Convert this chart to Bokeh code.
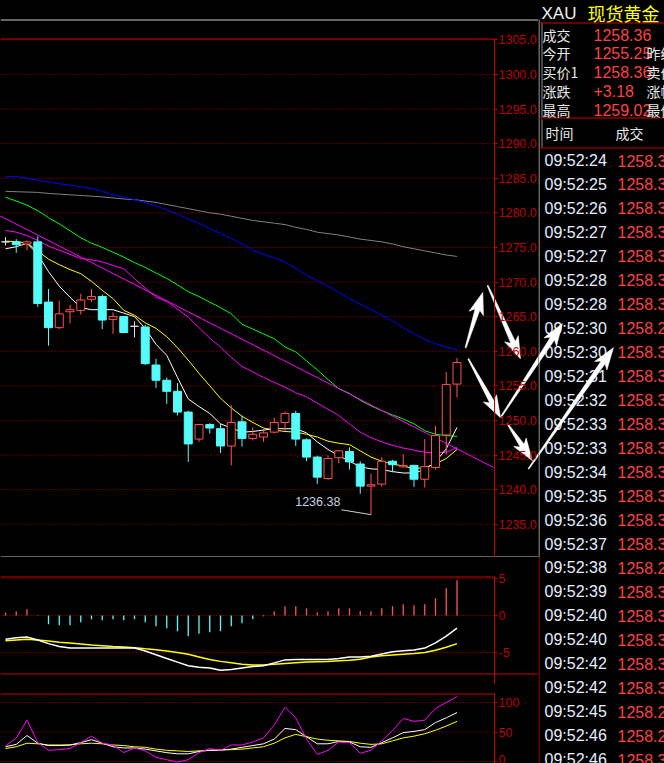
import math
from bokeh.plotting import figure
from bokeh.layouts import row, column
from bokeh.models import Range1d, LinearAxis, FixedTicker, NumeralTickFormatter
from bokeh.core.properties import value
from bokeh.embed import file_html
from bokeh.resources import INLINE

# ---------------- data ----------------
candle_idx = list(range(43))
opens = [1275.8, 1275.8, 1275.5, 1275.8, 1267.1, 1263.4, 1265.7, 1265.9, 1267.5, 1267.9, 1264.6, 1265.0, 1263.6,
         1263.5, 1258.0, 1255.8, 1254.2, 1251.2, 1247.3, 1249.4, 1248.8, 1246.3, 1249.8, 1247.4, 1247.6, 1248.3,
         1249.7, 1251.0, 1247.2, 1244.7, 1241.6, 1244.6, 1245.5, 1243.7, 1240.5, 1240.8, 1244.1, 1243.3, 1243.5,
         1241.5, 1243.2, 1247.9, 1255.25]
highs = [1276.5, 1276.2, 1276.0, 1276.6, 1269.0, 1267.3, 1266.7, 1268.3, 1269.0, 1268.2, 1265.6, 1265.1, 1264.3,
         1263.8, 1258.9, 1256.2, 1255.4, 1251.4, 1249.5, 1249.6, 1249.5, 1252.2, 1250.7, 1249.0, 1248.8, 1250.4,
         1251.3, 1251.4, 1247.4, 1244.9, 1244.9, 1245.7, 1246.1, 1244.1, 1242.3, 1244.7, 1244.3, 1245.1, 1243.6,
         1247.3, 1249.2, 1257.0, 1259.02]
lows = [1275.3, 1274.2, 1274.6, 1266.4, 1260.8, 1263.2, 1264.0, 1265.3, 1267.1, 1263.2, 1262.5, 1262.6, 1262.0,
        1258.0, 1254.7, 1252.4, 1250.7, 1244.0, 1246.9, 1248.1, 1245.3, 1243.5, 1246.2, 1247.1, 1246.9, 1248.1,
        1248.5, 1246.3, 1244.1, 1240.8, 1241.4, 1243.8, 1242.9, 1239.4, 1236.38, 1240.4, 1242.5, 1243.2, 1240.4,
        1240.3, 1242.9, 1245.1, 1253.3]
closes = [1275.8, 1275.4, 1275.8, 1266.9, 1263.4, 1265.4, 1266.0, 1267.4, 1267.9, 1264.5, 1265.0, 1262.7, 1263.6,
          1258.2, 1255.8, 1254.2, 1251.2, 1246.6, 1249.4, 1248.9, 1246.3, 1249.7, 1247.4, 1248.0, 1248.2, 1249.7,
          1251.0, 1247.3, 1244.7, 1241.8, 1244.5, 1245.6, 1244.0, 1240.5, 1240.7, 1244.1, 1243.6, 1243.5, 1241.5,
          1243.3, 1247.8, 1255.2, 1258.36]

ma5 = [1274.8, 1275.1, 1275.6, 1274.0, 1271.5, 1269.4, 1267.8, 1266.3, 1266.0, 1266.0, 1266.0, 1265.5, 1265.0,
       1263.3, 1261.0, 1259.4, 1256.2, 1253.1, 1252.0, 1251.0, 1249.5, 1248.9, 1248.3, 1248.4, 1248.6, 1248.8,
       1248.8, 1248.8, 1248.2, 1246.9, 1245.8, 1244.9, 1244.1, 1243.3, 1243.0, 1242.9, 1242.6, 1242.4, 1242.4,
       1242.9, 1244.0, 1245.9, 1249.0]
ma10 = [1275.9, 1275.85, 1275.6, 1274.5, 1273.3, 1272.5, 1271.8, 1271.2, 1270.1, 1268.8, 1267.6, 1265.9, 1265.2,
        1264.1, 1263.3, 1262.1, 1260.5, 1258.7, 1256.8, 1255.0, 1253.2, 1251.8, 1250.6, 1249.7, 1248.9, 1248.6,
        1248.4, 1248.3, 1248.0, 1247.6, 1247.0, 1246.7, 1246.5, 1245.6, 1244.7, 1244.1, 1243.7, 1243.4, 1243.0,
        1243.2, 1243.7, 1244.5, 1245.8]
ma20 = [1277.45, 1277.2, 1276.7, 1276.0, 1275.2, 1274.6, 1274.0, 1273.4, 1273.2, 1272.9, 1272.4, 1271.9, 1270.5,
        1269.1, 1267.8, 1267.2, 1266.1, 1264.9, 1263.4, 1261.9, 1260.6, 1259.1, 1257.8, 1257.0, 1256.2, 1255.5,
        1254.8, 1254.0, 1253.4, 1252.5, 1251.6, 1250.7, 1249.5, 1248.3, 1247.5, 1246.9, 1246.4, 1246.0, 1245.7,
        1245.4, 1245.3, 1245.4, 1246.1]
ma30 = [1282.25, 1281.7, 1281.1, 1280.3, 1279.3, 1278.4, 1277.4, 1276.4, 1275.6, 1275.0, 1274.3, 1273.6, 1272.8,
        1272.1, 1271.3, 1270.5, 1269.6, 1268.6, 1267.9, 1267.1, 1266.3, 1265.4, 1263.9, 1263.2, 1262.5, 1261.8,
        1260.6, 1259.9, 1258.6, 1257.3, 1255.9, 1254.6, 1253.9, 1252.9, 1252.1, 1251.4, 1250.8, 1250.2, 1249.5,
        1248.5, 1248.0, 1247.8, 1247.7]
ma60 = [1285.25, 1285.25, 1285.0, 1284.7, 1284.45, 1284.2, 1284.0, 1283.75, 1283.5, 1283.1, 1282.6, 1282.25,
        1281.9, 1281.45, 1281.0, 1280.4, 1279.8, 1279.1, 1278.5, 1277.7, 1277.0, 1276.3, 1275.5, 1274.6, 1274.0,
        1273.5, 1272.9, 1272.0, 1271.0, 1270.2, 1269.4, 1268.5, 1267.6, 1266.8, 1266.0, 1265.2, 1264.4, 1263.4,
        1262.5, 1261.7, 1261.1, 1260.6, 1260.2]
ma120 = [1283.1, 1283.05, 1283.0, 1282.95, 1282.8, 1282.7, 1282.6, 1282.5, 1282.4, 1282.3, 1282.15, 1282.0,
         1281.9, 1281.7, 1281.5, 1281.2, 1280.9, 1280.6, 1280.3, 1280.0, 1279.8, 1279.5, 1279.2, 1278.9, 1278.7,
         1278.5, 1278.3, 1277.9, 1277.6, 1277.2, 1277.0, 1276.8, 1276.5, 1276.2, 1276.0, 1275.8, 1275.5, 1275.1,
         1274.8, 1274.5, 1274.2, 1273.9, 1273.7]
trend_x = [-0.5, 45.4]
trend_y = [1279.55, 1243.2]
low_label = "1236.38"

macd_hist = [0.41, 0.59, 0.86, -0.05, -1.17, -1.31, -1.31, -0.9, -0.5, -0.63, -0.5, -0.63, -0.5, -0.9, -1.44,
             -1.71, -2.12, -2.79, -2.48, -2.25, -2.12, -1.44, -1.04, -0.5, -0.09, 0.59, 1.26, 1.26, 0.99, 0.45,
             0.59, 0.99, 0.99, 0.59, 0.59, 0.99, 1.26, 1.53, 1.40, 1.53, 2.34, 3.69, 4.77]
macd_dif = [-3.2, -3.0, -2.9, -3.3, -3.8, -4.2, -4.4, -4.4, -4.4, -4.4, -4.4, -4.4, -4.4, -4.8, -5.3, -5.8, -6.3,
            -6.8, -7.0, -7.1, -7.4, -7.3, -7.1, -6.9, -6.8, -6.4, -6.0, -5.95, -5.95, -5.95, -5.95, -5.8, -5.6,
            -5.6, -5.5, -5.2, -4.9, -4.75, -4.65, -4.4, -3.7, -2.8, -1.7]
macd_dea = [-3.4, -3.3, -3.2, -3.3, -3.45, -3.6, -3.7, -3.85, -4.0, -4.1, -4.2, -4.25, -4.35, -4.5, -4.64, -4.8,
            -5.0, -5.25, -5.6, -5.95, -6.2, -6.4, -6.6, -6.7, -6.7, -6.6, -6.5, -6.4, -6.3, -6.25, -6.2, -6.1,
            -6.05, -5.9, -5.6, -5.45, -5.35, -5.25, -5.15, -5.0, -4.7, -4.3, -3.8]
kdj_k = [25, 29, 44, 31, 27, 27, 28, 32, 37, 31, 25, 23, 23, 21, 18, 15, 13, 13, 17, 19, 19, 21, 24, 27, 30, 38,
         56, 54, 42, 30, 30, 34, 33, 25, 24, 32, 40, 49, 51, 54, 66, 74, 83]
kdj_d = [22, 25, 31, 30, 28, 28, 28, 30, 31, 30, 28, 27, 25, 24, 21, 19, 18, 17, 18, 19, 20, 20, 21, 23, 25, 31,
         40, 46, 42, 38, 36, 35, 34, 31, 29, 30, 35, 40, 43, 47, 53, 60, 68]
kdj_j = [26, 40, 70, 32, 19, 20, 22, 32, 43, 31, 28, 15, 23, 18, 7, 3, -1, 3, 15, 22, 19, 28, 28, 33, 40, 62, 92,
         74, 38, 12, 19, 33, 32, 14, 19, 35, 52, 73, 68, 70, 90, 100, 110]

price_ticks = [1235, 1240, 1245, 1250, 1255, 1260, 1265, 1270, 1275, 1280, 1285, 1290, 1295, 1300, 1305]
macd_ticks = [-5, 0, 5]
kdj_ticks = [0, 50, 100]

# hand-drawn arrows, in chart units (candle index, price)
arrows = [((42.8, 1260.5), (44.4, 1268.5)),
          ((44.85, 1269.5), (47.9, 1258.9)),
          ((43.05, 1258.9), (46.05, 1250.4)),
          ((46.05, 1250.4), (51.8, 1264.0)),
          ((46.7, 1249.5), (49.0, 1244.2)),
          ((48.65, 1243.0), (56.55, 1260.5))]

# quote panel texts
q_code = "XAU"
q_name = "现货黄金"
q_labels = ["成交", "今开", "买价1", "涨跌", "最高"]
q_values = ["1258.36", "1255.25", "1258.36", "+3.18", "1259.02"]
q_labels2 = ["", "昨结", "卖价1", "涨幅", "最低"]
q_head = ["时间", "成交"]
tick_times = ["09:52:24", "09:52:25", "09:52:26", "09:52:27", "09:52:27", "09:52:28", "09:52:28", "09:52:30",
              "09:52:30", "09:52:31", "09:52:32", "09:52:33", "09:52:33", "09:52:34", "09:52:35", "09:52:36",
              "09:52:37", "09:52:38", "09:52:39", "09:52:40", "09:52:40", "09:52:42", "09:52:42", "09:52:45",
              "09:52:46", "09:52:46"]
tick_prices = ["1258.36", "1258.36", "1258.36", "1258.36", "1258.34", "1258.36", "1258.34", "1258.29",
               "1258.36", "1258.36", "1258.34", "1258.36", "1258.36", "1258.36", "1258.36", "1258.36",
               "1258.36", "1258.29", "1258.34", "1258.36", "1258.36", "1258.36", "1258.36", "1258.28",
               "1258.29", "1258.36"]

# ---------------- styling / geometry ----------------
BG = "#000000"
RED_AX = "#c80000"
RED_LBL = "#bc0000"
GRID = "#b40000"
UP = "#ff5454"
DOWN = "#54fcfc"
LEFT_W = 538          # width of the chart column (px)
AXIS_PX = 494         # x position of the price axis (px)
SX = 10.75            # px per candle
X0 = -5 / SX          # candle index at the left edge
X1 = X0 + LEFT_W / SX
XA = X0 + AXIS_PX / SX


class Panel:
    def __init__(self, height, hi, px_per_unit):
        self.h = height
        self.hi = hi
        self.k = px_per_unit
        self.lo = hi - height / px_per_unit

    def v(self, py):          # value at local pixel row py
        return self.hi - py / self.k

    def py(self, v):
        return (self.hi - v) * self.k


MAIN = Panel(557, 1305 + 39.3 / 6.92, 6.92)
MACD = Panel(127, 58 / 7.4, 7.4)
KDJ = Panel(79, 77 / 0.59, 0.59)


def bare_figure(width, height, xr, yr):
    f = figure(width=width, height=height, x_range=xr, y_range=yr,
               output_backend="svg", toolbar_location=None, x_axis_location=None, y_axis_location=None,
               min_border=0, background_fill_color=BG, border_fill_color=BG, outline_line_color=None)
    f.xgrid.visible = False
    f.ygrid.visible = False
    return f


def make_panel(P, frame_top_px, ticks, fmt, bottom_px=None, bottom_color=None, bottom_to=X1):
    p = bare_figure(LEFT_W, P.h, Range1d(X0, X1), Range1d(P.lo, P.hi))
    ax = LinearAxis(fixed_location=XA, bounds=(P.lo, P.v(frame_top_px)), ticker=FixedTicker(ticks=ticks),
                    formatter=fmt)
    ax.axis_line_color = RED_AX
    ax.major_tick_line_color = RED_AX
    ax.major_tick_out = 3
    ax.major_tick_in = 0
    ax.minor_tick_line_color = None
    ax.major_label_text_color = RED_LBL
    ax.major_label_text_font = "Liberation Sans"
    ax.major_label_text_font_size = "12.5px"
    ax.major_label_standoff = 1
    p.add_layout(ax, "right")
    # dotted grid lines, ending at the axis
    p.segment(x0=[X0] * len(ticks), y0=ticks, x1=[XA] * len(ticks), y1=ticks, line_color=GRID,
              line_dash="1 2", line_width=1)
    # red top border of the panel
    yt = P.v(frame_top_px + 0.5)
    p.segment(x0=[X0], y0=[yt], x1=[XA], y1=[yt], line_color=RED_AX, line_width=1)
    if bottom_px is not None:
        yb = P.v(bottom_px)
        p.segment(x0=[X0], y0=[yb], x1=[bottom_to], y1=[yb], line_color=bottom_color, line_width=1)
    return p


def to_px(i, v):
    return ((i - X0) * SX, MAIN.py(v))


def to_data(px, py):
    return (X0 + px / SX, MAIN.v(py))


def arrow_poly(p0, p1, head_len=18.0, head_w=7.5, shaft_w=2.4, barb=4.0):
    (x0, y0), (x1, y1) = p0, p1
    dx, dy = x1 - x0, y1 - y0
    L = math.hypot(dx, dy)
    ux, uy = dx / L, dy / L
    nx, ny = -uy, ux
    bx, by = x1 - ux * head_len, y1 - uy * head_len
    ox, oy = x1 - ux * (head_len + barb), y1 - uy * (head_len + barb)
    return [(x0 + nx * 0.5, y0 + ny * 0.5), (bx + nx * shaft_w, by + ny * shaft_w),
            (ox + nx * head_w, oy + ny * head_w), (x1, y1),
            (ox - nx * head_w, oy - ny * head_w), (bx - nx * shaft_w, by - ny * shaft_w),
            (x0 - nx * 0.5, y0 - ny * 0.5)]


# ---------------- main candlestick panel ----------------
p = make_panel(MAIN, 38, price_ticks, NumeralTickFormatter(format="0.0"), bottom_px=556.5,
               bottom_color="#c8c8c8")
# chart window top border (white)
yw = MAIN.v(19.5)
p.segment(x0=[X0], y0=[yw], x1=[X1], y1=[yw], line_color="#c8c8c8", line_width=1)

ma_cfg = [(ma120, "#808080"), (ma60, "#0000ff"), (ma30, "#00ff00"), (ma20, "#ff00ff"),
          (ma10, "#ffff00"), (ma5, "#ffffff")]
for series, col in ma_cfg:
    p.line(candle_idx, series, line_color=col, line_width=1)
p.line(trend_x, trend_y, line_color="#ff00ff", line_width=1)

cols = [UP if c > o else (DOWN if c < o else "#e0e0e0") for o, c in zip(opens, closes)]
fills = [BG if c > o else (DOWN if c < o else "#e0e0e0") for o, c in zip(opens, closes)]
tops = [max(o, c) for o, c in zip(opens, closes)]
bots = [min(o, c) for o, c in zip(opens, closes)]
p.segment(x0=candle_idx, y0=lows, x1=candle_idx, y1=highs, line_color=cols, line_width=1)
p.vbar(x=candle_idx, width=0.74, top=tops, bottom=bots, fill_color=fills, line_color=cols, line_width=1)

# lowest price label
low_i = lows.index(min(lows))
low_v = lows[low_i]
p.text(x=[low_i - 2.85], y=[low_v + 1.95], text=[low_label], text_font=value("Liberation Sans"),
       text_font_size="12.5px", text_color="#c8d0e0", text_align="right", text_baseline="middle")
p.segment(x0=[low_i - 2.75], y0=[low_v + 0.7], x1=[low_i], y1=[low_v], line_color="#d0d0d0", line_width=1)

# arrows
arrow_px = [arrow_poly(to_px(*a), to_px(*b)) for a, b in arrows]
axs, ays = [], []
for pts in arrow_px:
    d = [to_data(x, y) for x, y in pts]
    axs.append([t[0] for t in d])
    ays.append([t[1] for t in d])
p.patches(xs=axs, ys=ays, fill_color="white", line_color="white", line_width=0.6)

# ---------------- MACD panel ----------------
m = make_panel(MACD, 19, macd_ticks, NumeralTickFormatter(format="0"), bottom_px=116.5, bottom_color=RED_AX)
hcol = [UP if h > 0 else DOWN for h in macd_hist]
m.segment(x0=candle_idx, y0=[0] * len(macd_hist), x1=candle_idx, y1=macd_hist, line_color=hcol, line_width=1.3)
m.line(candle_idx, macd_dea, line_color="#ffff00", line_width=1.5)
m.line(candle_idx, macd_dif, line_color="#ffffff", line_width=1.5)

# ---------------- KDJ panel ----------------
k = make_panel(KDJ, 9, kdj_ticks, NumeralTickFormatter(format="0"))
k.line(candle_idx, kdj_d, line_color="#ffff00", line_width=1)
k.line(candle_idx, kdj_k, line_color="#ffffff", line_width=1)
k.line(candle_idx, kdj_j, line_color="#ff00ff", line_width=1)

# ---------------- quote panel ----------------
QX0, QX1, QH = 538, 664, 763
q = bare_figure(QX1 - QX0, QH, Range1d(QX0, QX1), Range1d(0, QH))


def qy(py):
    return QH - py


q.segment(x0=[538.5], y0=[qy(19)], x1=[538.5], y1=[qy(557)], line_color="#c8c8c8", line_width=1)
q.segment(x0=[538.5], y0=[qy(557)], x1=[538.5], y1=[qy(763)], line_color=RED_AX, line_width=1)
q.segment(x0=[541.5, 541.5], y0=[qy(22), qy(119)], x1=[541.5, 541.5], y1=[qy(117), qy(147)],
          line_color="#909090", line_width=1)
hl = [qy(22.5), qy(117.5), qy(147.5)]
q.segment(x0=[539] * 3, y0=hl, x1=[664] * 3, y1=hl, line_color=RED_AX, line_width=1)

q.text(x=[541], y=[qy(13)], text=[q_code], text_font=value("Liberation Sans"), text_font_size="17px",
       text_color="#f0f0f0", text_baseline="middle")
q.text(x=[587], y=[qy(12)], text=[q_name], text_font=value("Noto Sans CJK SC"), text_font_size="18px",
       text_color="#ffff00", text_baseline="middle")
row_y = [qy(34 + 18.8 * n) for n in range(len(q_labels))]
q.text(x=[542] * len(q_labels), y=row_y, text=q_labels, text_font=value("Noto Sans CJK SC"),
       text_font_size="14px", text_color="#e8e8e8", text_baseline="middle")
q.text(x=[593] * len(q_values), y=row_y, text=q_values, text_font=value("Liberation Sans"),
       text_font_size="16px", text_color="#ff4040", text_baseline="middle")
q.text(x=[646] * len(q_labels2), y=row_y, text=q_labels2, text_font=value("Noto Sans CJK SC"),
       text_font_size="14px", text_color="#e8e8e8", text_baseline="middle")
q.text(x=[545, 615], y=[qy(132), qy(132)], text=q_head, text_font=value("Noto Sans CJK SC"),
       text_font_size="14px", text_color="#e8e8e8", text_baseline="middle")
list_y = [qy(160 + 23.97 * n) for n in range(len(tick_times))]
q.text(x=[544] * len(tick_times), y=list_y, text=tick_times, text_font=value("Liberation Sans"),
       text_font_size="16px", text_color="#e6eeff", text_baseline="middle")
q.text(x=[617] * len(tick_prices), y=list_y, text=tick_prices, text_font=value("Liberation Sans"),
       text_font_size="16px", text_color="#ff4040", text_baseline="middle")

q.patches(xs=[[x for x, _ in pts] for pts in arrow_px], ys=[[qy(y) for _, y in pts] for pts in arrow_px],
          fill_color="white", line_color="white", line_width=0.6)

layout = row(column(p, m, k, spacing=0), q, spacing=0)

html = file_html(layout, INLINE)
html = html.replace("</head>", "<style>html,body{background:#000000;}</style></head>")
open("out.html", "w").write(html)
